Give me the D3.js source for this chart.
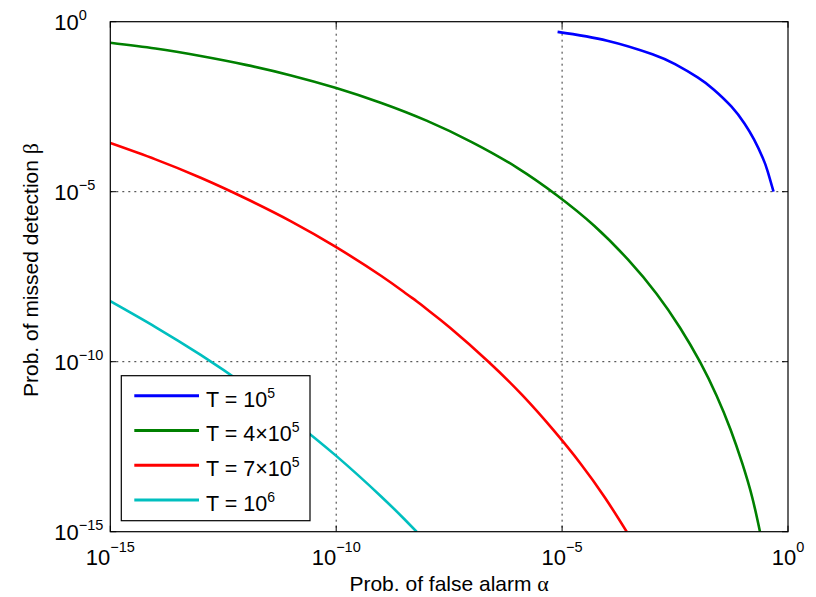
<!DOCTYPE html>
<html>
<head>
<meta charset="utf-8">
<script src="https://cdn.jsdelivr.net/npm/d3@7"></script>
<style>
  body { margin: 0; background: #fff; }
  text { font-family: "Liberation Sans", Arial, Helvetica, sans-serif; fill: #000; }
</style>
</head>
<body>
<div id="chart"></div>
<script>
// series labels (T values) and colours
var seriesNames = ["T = 10^5", "T = 4\u00d710^5", "T = 7\u00d710^5", "T = 10^6"];
var seriesColors = ["#0000ff", "#008000", "#ff0000", "#00bfbf"];

// log10 of alpha / beta
var logAlphaT1 = [-5.10, -4.00, -3.00, -2.50, -2.00, -1.64, -1.25, -0.96, -0.75, -0.56, -0.45, -0.32];
var logBetaT1  = [-0.30, -0.56, -0.96, -1.25, -1.64, -2.00, -2.50, -3.00, -3.47, -4.00, -4.40, -5.00];

var logAlphaT4 = [-15, -14, -13, -12, -11, -10, -9, -8, -7, -6, -5.11,
                  -4.29, -3.54, -2.91, -2.39, -1.95, -1.58, -1.27, -1.01, -0.79, -0.62];
var logBetaT4  = [-0.62, -0.79, -1.01, -1.27, -1.58, -1.95, -2.39, -2.91, -3.54, -4.29, -5.11,
                  -6, -7, -8, -9, -10, -11, -12, -13, -14, -15];

var logAlphaT7 = [-15, -14, -13, -12, -11, -10, -9, -8.45, -8.22, -8.00,
                  -7.48, -6.63, -5.87, -5.20, -4.59, -4.05, -3.57];
var logBetaT7  = [-3.57, -4.05, -4.59, -5.20, -5.87, -6.63, -7.48, -8.00, -8.22, -8.45,
                  -9, -10, -11, -12, -13, -14, -15];

var logAlphaT10 = [-15, -14, -13, -12, -11, -10, -9, -8.5, -8.22];
var logBetaT10  = [-8.22, -8.98, -9.80, -10.70, -11.69, -12.77, -13.97, -14.62, -15];

var tickExps = [-15, -10, -5, 0];

var series = [
  {a: logAlphaT1, b: logBetaT1},
  {a: logAlphaT4, b: logBetaT4},
  {a: logAlphaT7, b: logBetaT7},
  {a: logAlphaT10, b: logBetaT10}
];

var W = 816, H = 597;
var margin = {top: 21.7, right: 28, bottom: 65.3, left: 110.3};
var width = W - margin.left - margin.right,
    height = H - margin.top - margin.bottom;

var svg = d3.select("#chart").append("svg")
    .attr("width", W)
    .attr("height", H);

var g = svg.append("g")
    .attr("transform", "translate(" + margin.left + "," + margin.top + ")");

var x = d3.scaleLog().domain([1e-15, 1]).range([0, width]);
var y = d3.scaleLog().domain([1e-15, 1]).range([height, 0]);

// grid (dotted)
var gridVals = tickExps.map(function(e) { return Math.pow(10, e); });
g.selectAll(".vgrid").data(gridVals.slice(1, -1)).enter().append("line")
    .attr("x1", function(d) { return x(d); }).attr("x2", function(d) { return x(d); })
    .attr("y1", 0).attr("y2", height)
    .attr("stroke", "#333").attr("stroke-width", 1).attr("stroke-dasharray", "2,4");
g.selectAll(".hgrid").data(gridVals.slice(1, -1)).enter().append("line")
    .attr("y1", function(d) { return y(d); }).attr("y2", function(d) { return y(d); })
    .attr("x1", 0).attr("x2", width)
    .attr("stroke", "#333").attr("stroke-width", 1).attr("stroke-dasharray", "2,4");

// curves
g.append("clipPath").attr("id", "clip").append("rect")
    .attr("width", width).attr("height", height);

var line = d3.line()
    .x(function(d) { return x(Math.pow(10, d[0])); })
    .y(function(d) { return y(Math.pow(10, d[1])); })
    .curve(d3.curveNatural);

series.forEach(function(s, i) {
    var pts = s.a.map(function(v, j) { return [v, s.b[j]]; });
    g.append("path")
        .datum(pts)
        .attr("clip-path", "url(#clip)")
        .attr("fill", "none")
        .attr("stroke", seriesColors[i])
        .attr("stroke-width", 2.6)
        .attr("stroke-linejoin", "round")
        .attr("d", line);
});

// major ticks (inward) on all sides
gridVals.forEach(function(d) {
    var len = 6;
    g.append("line").attr("x1", x(d)).attr("x2", x(d)).attr("y1", height).attr("y2", height - len)
        .attr("stroke", "#000");
    g.append("line").attr("x1", x(d)).attr("x2", x(d)).attr("y1", 0).attr("y2", len)
        .attr("stroke", "#000");
    g.append("line").attr("y1", y(d)).attr("y2", y(d)).attr("x1", 0).attr("x2", len)
        .attr("stroke", "#000");
    g.append("line").attr("y1", y(d)).attr("y2", y(d)).attr("x1", width).attr("x2", width - len)
        .attr("stroke", "#000");
});

// frame
g.append("rect").attr("width", width).attr("height", height)
    .attr("fill", "none").attr("stroke", "#000").attr("stroke-width", 1.2);

function expText(e) { return e < 0 ? "\u2212" + (-e) : String(e); }

// x tick labels
tickExps.forEach(function(e) {
    var t = g.append("text")
        .attr("x", x(Math.pow(10, e)))
        .attr("y", height + 33.5)
        .attr("text-anchor", "middle")
        .style("font-size", "22px");
    t.append("tspan").text("10");
    t.append("tspan").attr("dy", -13).style("font-size", "14.5px").text(expText(e));
});

// y tick labels
tickExps.forEach(function(e) {
    var yy = y(Math.pow(10, e));
    g.append("text")
        .attr("x", -31.5).attr("y", yy + 8.5)
        .attr("text-anchor", "end")
        .style("font-size", "22px")
        .text("10");
    g.append("text")
        .attr("x", -31.5).attr("y", yy - 2)
        .attr("text-anchor", "start")
        .style("font-size", "14.5px")
        .text(expText(e));
});

// axis labels
var xl = svg.append("text")
    .attr("x", margin.left + width / 2)
    .attr("y", 590.5)
    .attr("text-anchor", "middle")
    .style("font-size", "21px");
xl.append("tspan").text("Prob. of false alarm ");
xl.append("tspan").style("font-family", "Liberation Serif, serif").style("font-size", "22px").text("\u03b1");

var yl = svg.append("text")
    .attr("transform", "translate(38,270) rotate(-90)")
    .attr("text-anchor", "middle")
    .style("font-size", "21px");
yl.append("tspan").text("Prob. of missed detection ");
yl.append("tspan").style("font-family", "Liberation Serif, serif").style("font-size", "22px").text("\u03b2");

// legend
var lg = svg.append("g").attr("transform", "translate(121.3,375.7)");
lg.append("rect").attr("width", 188.7).attr("height", 145)
    .attr("fill", "#fff").attr("stroke", "#000").attr("stroke-width", 1.2);

seriesNames.forEach(function(name, i) {
    var ry = 20 + i * 34.8;
    lg.append("line").attr("x1", 13).attr("x2", 77.7).attr("y1", ry).attr("y2", ry)
        .attr("stroke", seriesColors[i]).attr("stroke-width", 3);
    var parts = name.split("^");
    var t = lg.append("text").attr("x", 84.7).attr("y", ry + 11).style("font-size", "21.5px");
    t.append("tspan").text(parts[0]);
    t.append("tspan").attr("dy", -9).style("font-size", "14px").text(parts[1]);
});
</script>
</body>
</html>
